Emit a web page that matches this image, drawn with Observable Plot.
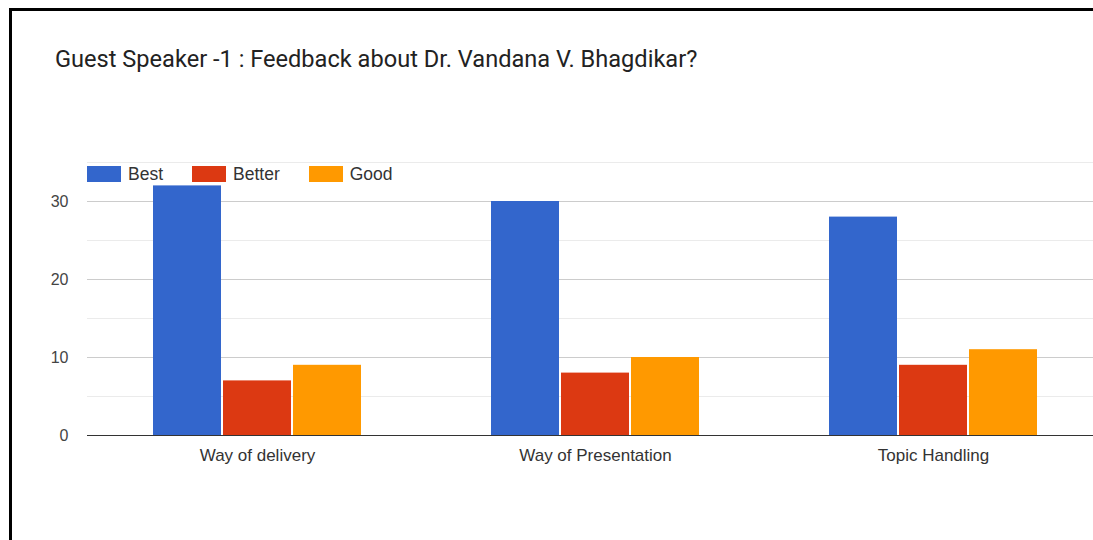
<!DOCTYPE html>
<html>
<head>
<meta charset="utf-8">
<script src="https://cdn.jsdelivr.net/npm/d3@7"></script>
<script src="https://cdn.jsdelivr.net/npm/@observablehq/plot@0.6"></script>
<style>
  html, body { margin: 0; padding: 0; background: #fff; overflow: hidden; width: 1093px; height: 540px; }
  body { position: relative; font-family: Roboto, "Liberation Sans", sans-serif; }
  #frame { position: absolute; left: 9px; top: 8px; width: 1081px; height: 529px; border-left: 3px solid #000; border-top: 3px solid #000; }
  #title { position: absolute; left: 55px; top: 45px; font-size: 23.6px; line-height: 28px; color: #222; white-space: nowrap; font-family: Roboto, sans-serif; }
  #legend { position: absolute; left: 87px; top: 166px; height: 16px; display: flex; align-items: center; font-size: 17.5px; color: #333; font-family: "Liberation Sans", Arial, sans-serif; }
  #legend .item { display: flex; align-items: center; }
  #legend .sw { width: 34px; height: 16px; margin-right: 7px; }
  #chartwrap { position: absolute; left: 0; top: 150px; width: 1093px; height: 330px; overflow: hidden; }
  #chartwrap svg { overflow: hidden; }
</style>
</head>
<body>
<div id="frame"></div>
<div id="title"></div>
<div id="legend"></div>
<div id="chartwrap"></div>
<script>
const titleText = "Guest Speaker -1 : Feedback about Dr. Vandana V. Bhagdikar?";
const categories = ["Way of delivery", "Way of Presentation", "Topic Handling"];
const seriesNames = ["Best", "Better", "Good"];
const bestValues = [32, 30, 28];
const betterValues = [7, 8, 9];
const goodValues = [9, 10, 11];
const colors = ["#3366cc", "#dc3912", "#ff9900"];
const yTicks = [0, 10, 20, 30];
const minorTicks = [5, 15, 25, 35];

document.getElementById("title").textContent = titleText;

const legend = document.getElementById("legend");
const legendGaps = [29, 29, 0];
seriesNames.forEach((s, i) => {
  const it = document.createElement("div");
  it.className = "item";
  it.style.marginRight = legendGaps[i] + "px";
  const sw = document.createElement("div");
  sw.className = "sw";
  sw.style.background = colors[i];
  const t = document.createElement("span");
  t.textContent = s;
  it.appendChild(sw); it.appendChild(t);
  legend.appendChild(it);
});

const allValues = [bestValues, betterValues, goodValues];
const data = [];
seriesNames.forEach((s, si) => {
  categories.forEach((c, ci) => data.push({category: c, series: s, value: allValues[si][ci]}));
});

const offsets = [-70, 0, 70];
const chart = Plot.plot({
  width: 1093,
  height: 330,
  marginTop: 12,
  marginBottom: 45,
  marginLeft: 87,
  marginRight: -9.5,
  style: {fontFamily: "'Liberation Sans', Arial, sans-serif", background: "transparent"},
  x: {domain: categories, paddingInner: 0.7991, paddingOuter: 0.39955, label: null},
  y: {domain: [0, 35], label: null},
  color: {domain: seriesNames, range: colors},
  marks: [
    Plot.ruleY(minorTicks, {stroke: "#ebebeb", strokeWidth: 1}),
    Plot.ruleY(yTicks.filter(d => d !== 0), {stroke: "#cccccc", strokeWidth: 1}),
    ...seriesNames.map((s, i) => Plot.barY(data.filter(d => d.series === s), {
      x: "category", y: "value", fill: "series", dx: offsets[i]
    })),
    Plot.ruleY([0], {stroke: "#333", strokeWidth: 1}),
    Plot.axisY({ticks: yTicks, tickSize: 0, tickPadding: 19, fontSize: 16, fill: "#444", label: null}),
    Plot.axisX({tickSize: 0, tickPadding: 13, fontSize: 17, fill: "#333", label: null})
  ]
});
document.getElementById("chartwrap").appendChild(chart);
</script>
</body>
</html>
